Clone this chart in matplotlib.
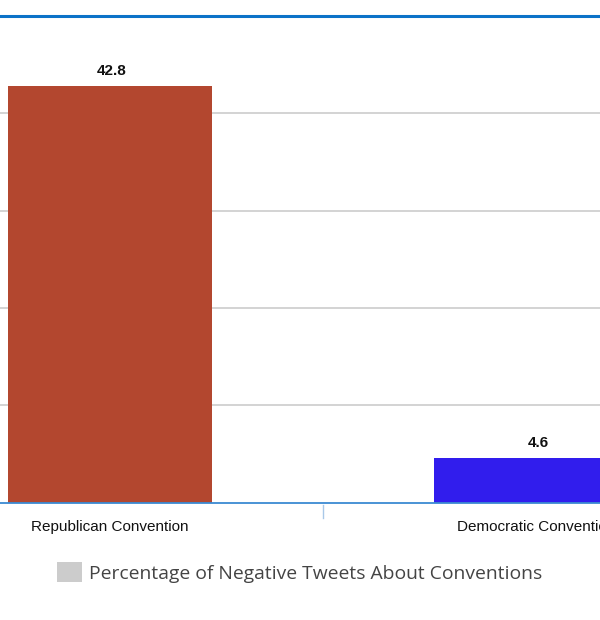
import matplotlib
matplotlib.use("Agg")
import matplotlib.pyplot as plt
from matplotlib.patches import Rectangle

categories = ["Republican Convention", "Democratic Convention"]
values = [42.8, 4.6]
value_labels = ["42.8", "4.6"]
bar_colors = ["#b3472f", "#311ded"]
series_name = "Percentage of Negative Tweets About Conventions"
grid_values = [10, 20, 30, 40]
y_max = 50

W, H = 600, 620
fig = plt.figure(figsize=(W / 100, H / 100), dpi=100)

# axes extends beyond figure edges (chart is cropped in reference)
ax_left_px, ax_right_px = -103, 749
ax_top_px, ax_bot_px = 16, 502.5
ax = fig.add_axes([ax_left_px / W, (H - ax_bot_px) / H,
                   (ax_right_px - ax_left_px) / W, (ax_bot_px - ax_top_px) / H])

x = list(range(len(categories)))
ax.set_xlim(-0.5, len(categories) - 0.5)
ax.set_ylim(0, y_max)

for g in grid_values:
    ax.axhline(g, color="#cccccc", linewidth=1.2, zorder=1)

bars = ax.bar(x, values, width=0.477, color=bar_colors, zorder=2)

for xi, v, lab in zip(x, values, value_labels):
    ax.annotate(lab, (xi, v), xytext=(1.5, 7.8), textcoords="offset points",
                ha="center", va="baseline", fontsize=11, fontweight="bold",
                family="Liberation Sans", color="#111111")

for s in ["left", "right"]:
    ax.spines[s].set_visible(False)
ax.spines["top"].set_color("#0b72c8")
ax.spines["top"].set_linewidth(2.2)
ax.spines["bottom"].set_color("#3b8ad2")
ax.spines["bottom"].set_linewidth(1.3)
ax.spines["bottom"].set_zorder(3)

ax.set_yticks([])
ax.set_xticks(x)
ax.set_xticklabels(categories, family="Liberation Sans", fontsize=11, color="#111111")
ax.tick_params(axis="x", length=0, pad=12.5)

# category separator tick
for i in range(len(categories) - 1):
    ax.plot([i + 0.5, i + 0.5], [-0.3, -1.6], color="#a9c8e8", linewidth=1,
            clip_on=False, zorder=3)

# legend
fig.patches.append(Rectangle((57 / W, 1 - 582 / H), 25 / W, 20 / H,
                             transform=fig.transFigure, facecolor="#cccccc",
                             edgecolor="none"))
fig.text(89 / W, 1 - 574 / H, series_name, family="Open Sans", fontsize=13.9,
         color="#444444", va="center", ha="left")

fig.savefig("out.png", dpi=100, facecolor="white")
